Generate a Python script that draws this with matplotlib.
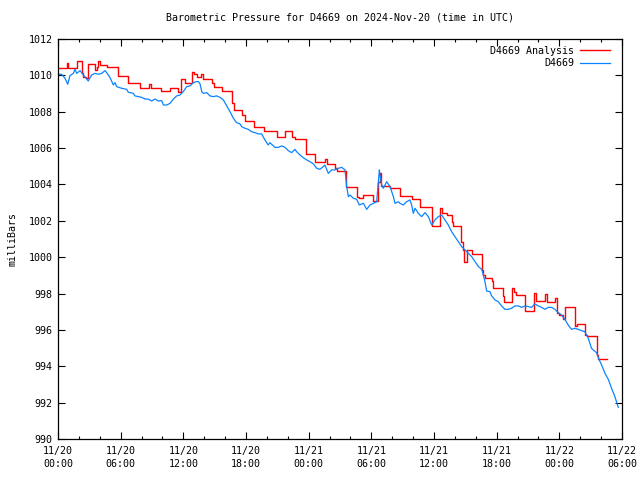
import matplotlib
matplotlib.use("Agg")
import matplotlib.pyplot as plt
from matplotlib.ticker import MultipleLocator

# hours since 2024-11-20 00:00 UTC
obs_hours = [0.03, 0.35, 0.67, 0.93, 1.15, 1.47, 1.63, 1.79, 2.11, 2.43, 2.75, 2.90, 3.22, 3.54,
             3.86, 4.18, 4.50, 4.66, 4.98, 5.30, 5.46, 5.62, 6.09, 6.57, 6.73, 7.21, 7.37, 8.01,
             8.33, 8.65, 8.97, 9.29, 9.61, 9.93, 10.09, 10.41, 10.72, 11.04, 11.36, 11.68, 12.00,
             12.32, 12.64, 12.96, 13.28, 13.44,
             13.60, 13.76, 13.92, 14.24, 14.55, 14.87, 15.19, 15.51, 15.83, 16.15, 16.47, 16.79,
             17.10, 17.42, 17.58, 17.90, 18.22, 18.54, 18.86, 19.18, 19.50, 19.81, 20.13, 20.29,
             20.77, 21.09, 21.42, 21.73, 22.05, 22.37, 22.69, 22.85, 23.17, 23.49, 23.81, 24.13,
             24.45, 24.77, 25.08, 25.40, 25.56, 25.88, 26.20, 26.52, 26.84, 27.16, 27.48, 27.64,
             27.80, 27.96, 28.28, 28.60, 28.85, 29.24, 29.56, 29.87, 30.19, 30.51, 30.77, 30.83,
             30.99, 31.15, 31.47, 31.79, 32.11, 32.27, 32.58,
             32.75, 33.06, 33.38, 33.70, 33.86, 34.02, 34.18, 34.50, 34.82, 35.14, 35.46, 35.78,
             36.09, 36.41, 36.73, 37.05, 37.37, 37.69, 38.01, 38.33, 38.65, 38.97, 39.29, 39.61,
             39.93, 40.25,
             40.57, 40.72, 40.88, 41.04, 41.36, 41.52, 41.84, 42.16, 42.47, 42.79, 43.11, 43.43,
             43.75, 44.07, 44.39, 44.71, 45.03, 45.35, 45.66, 45.98, 46.30, 46.62, 46.94, 47.26,
             47.58, 47.90, 48.21, 48.53, 48.85, 49.17, 49.49, 49.81, 50.13, 50.45, 50.77, 51.08,
             51.24, 51.56, 51.82, 52.05, 52.37, 52.69, 53.00, 53.32, 53.64]
obs_mb = [1010.06, 1010.06, 1009.84, 1009.51, 1009.99, 1010.11, 1010.33, 1010.11, 1010.26, 1010.02,
          1009.80, 1009.69, 1010.02, 1010.11, 1010.06, 1010.11, 1010.26, 1010.15, 1009.88, 1009.47,
          1009.60, 1009.38, 1009.29, 1009.23, 1009.07, 1009.01, 1008.87, 1008.79, 1008.70, 1008.69,
          1008.59, 1008.70, 1008.59, 1008.61, 1008.37, 1008.37, 1008.46, 1008.69, 1008.87, 1008.92,
          1009.11, 1009.38, 1009.42, 1009.60, 1009.66, 1009.66,
          1009.53, 1009.11, 1009.01, 1009.05, 1008.87, 1008.83, 1008.87, 1008.79, 1008.65, 1008.32,
          1008.00, 1007.64, 1007.40, 1007.33, 1007.18, 1007.09, 1007.03, 1006.90, 1006.85, 1006.78,
          1006.78, 1006.45, 1006.17, 1006.30, 1006.04, 1006.04, 1006.12, 1006.04, 1005.86, 1005.75,
          1005.93, 1005.80, 1005.62, 1005.47, 1005.35, 1005.25, 1005.13, 1004.89, 1004.83, 1004.98,
          1005.07, 1004.61, 1004.80, 1004.80, 1004.89, 1004.94, 1004.80, 1003.88, 1003.33, 1003.42,
          1003.24, 1003.18, 1002.87, 1002.96, 1002.63, 1002.87, 1002.96, 1003.05, 1004.80, 1004.52,
          1003.97, 1003.79, 1004.15, 1003.88, 1003.33, 1002.96, 1003.05,
          1002.96, 1002.87, 1003.05, 1003.15, 1002.87, 1002.41, 1002.69, 1002.41, 1002.23, 1002.45,
          1002.23, 1001.77, 1002.05, 1002.23, 1002.32, 1002.05, 1001.77, 1001.40, 1001.13, 1000.85,
          1000.58, 1000.40, 1000.21, 1000.03, 999.75, 999.48,
          999.33, 999.02, 998.65, 998.14, 998.10, 997.87, 997.65, 997.55, 997.32, 997.13, 997.13,
          997.19, 997.32, 997.32, 997.24, 997.32, 997.28, 997.24, 997.43, 997.32, 997.24, 997.13,
          997.24, 997.24, 997.13, 996.95, 996.82, 996.58, 996.27, 996.03, 996.09, 996.03, 995.96,
          995.90, 995.54, 994.99, 994.90, 994.75, 994.35, 994.07, 993.61, 993.28, 992.79, 992.33,
          991.74]

ana_hours = [0.00, 0.83, 0.93, 1.79, 2.27, 2.43, 2.65, 2.90, 3.54, 3.70, 3.86, 4.02, 4.66, 5.78,
             6.74, 7.85, 8.74, 8.87, 9.86, 10.72, 11.46, 11.78, 12.16, 12.80, 13.05, 13.28, 13.70,
             13.92, 14.71, 14.94, 15.67, 16.69, 16.88, 17.64, 17.90, 18.77, 19.76, 20.94, 21.73,
             22.37, 22.69, 23.75, 24.61, 25.56, 25.72, 26.52, 26.74, 27.55, 28.60, 28.85, 29.24,
             30.19, 30.67, 30.80, 30.89, 31.79, 32.75, 33.86, 34.66, 35.78, 36.58, 36.74, 37.22,
             37.69, 37.85, 38.55, 38.74, 38.87, 39.13, 39.61, 40.57, 40.72, 40.88, 41.52, 41.68,
             42.64, 42.74, 43.50, 43.66, 43.85, 44.71, 45.58, 45.74, 46.63, 46.79, 47.59, 47.81,
             48.00, 48.39, 48.54, 49.50, 49.66, 50.46, 50.62, 51.58, 51.74, 52.60]
ana_mb = [1010.39, 1010.66, 1010.39, 1010.81, 1010.11, 1009.93, 1009.84, 1010.61, 1010.30, 1010.48,
          1010.81, 1010.57, 1010.48, 1009.97, 1009.60, 1009.33, 1009.51, 1009.33, 1009.14, 1009.33,
          1009.11, 1009.78, 1009.56, 1010.17, 1010.06, 1009.93, 1010.06, 1009.78, 1009.56, 1009.34,
          1009.14, 1008.46, 1008.10, 1007.82, 1007.50, 1007.18, 1006.94, 1006.63, 1006.94, 1006.63,
          1006.50, 1005.66, 1005.25, 1005.38, 1005.13, 1004.89, 1004.76, 1003.88, 1003.33, 1003.27,
          1003.42, 1003.10, 1004.15, 1004.61, 1003.90, 1003.82, 1003.38, 1003.18, 1002.74, 1001.72,
          1002.69, 1002.41, 1002.32, 1001.95, 1001.72, 1000.85, 1000.40, 999.72, 1000.40, 1000.18,
          999.30, 999.02, 998.84, 998.69, 998.29, 997.87, 997.52, 998.29, 998.11, 997.92, 997.06,
          998.01, 997.59, 997.98, 997.55, 997.74, 996.91, 996.82, 996.58, 997.24, 996.22, 996.31,
          995.72, 995.67, 994.62, 994.38, 994.38]

xtick_hours = [0, 6, 12, 18, 24, 30, 36, 42, 48, 54]
xtick_labels = ["11/20\n00:00", "11/20\n06:00", "11/20\n12:00", "11/20\n18:00", "11/21\n00:00",
                "11/21\n06:00", "11/21\n12:00", "11/21\n18:00", "11/22\n00:00", "11/22\n06:00"]

FONT = "DejaVu Sans Mono"
FS = 7.2
plt.rcParams["font.family"] = [FONT]

fig = plt.figure(figsize=(6.4, 4.8), dpi=100)
ax = fig.add_axes([58/640, 41/480, 564/640, 400/480])

ax.plot(ana_hours, ana_mb, color="#ff0000", lw=1.0, drawstyle="steps-post", label="D4669 Analysis")
ax.plot(obs_hours, obs_mb, color="#0a84ff", lw=0.9, label="D4669")

ax.set_xlim(0, 54)
ax.set_ylim(990, 1012)
ax.set_xticks(xtick_hours)
ax.set_xticklabels(xtick_labels, fontsize=FS, linespacing=1.35)
ax.xaxis.set_minor_locator(MultipleLocator(2))
ax.yaxis.set_major_locator(MultipleLocator(2))
ax.tick_params(axis="y", labelsize=FS)
ax.tick_params(which="both", direction="in", top=True, right=True, width=0.8, color="black")
ax.tick_params(which="major", length=5)
ax.tick_params(which="minor", length=2.5)
ax.tick_params(axis="x", pad=5)
ax.tick_params(axis="y", pad=4)
for s in ax.spines.values():
    s.set_linewidth(0.9)

ax.set_ylabel("milliBars", fontsize=FS, labelpad=8)
ax.set_title("Barometric Pressure for D4669 on 2024-Nov-20 (time in UTC)", fontsize=FS, pad=13)

leg = ax.legend(loc="upper right", bbox_to_anchor=(1.0, 1.0125), frameon=False, markerfirst=False,
                fontsize=FS, handlelength=3.0, handletextpad=0.6, labelspacing=0.25,
                borderaxespad=0.3, borderpad=0.9)
for t in leg.get_texts():
    t.set_ha("right")

fig.savefig("out.png", dpi=100)
